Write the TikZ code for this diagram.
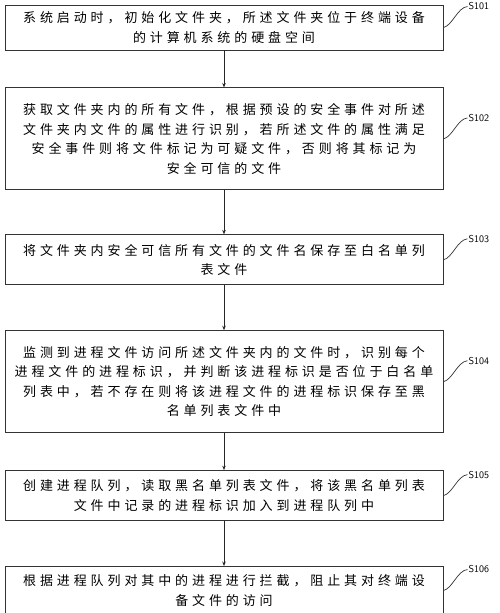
\documentclass[tikz,border=0pt]{standalone}
\usepackage{fontspec}
\newfontfamily\cjk[LetterSpace=30]{Noto Sans CJK SC}
\usetikzlibrary{arrows.meta,positioning}

\begin{document}
\begin{tikzpicture}[
  stepbox/.style={draw=black!80, line width=0.9pt, minimum width=438pt, align=center, inner sep=2pt, font=\cjk\fontsize{13pt}{19.5pt}\selectfont},
  tag/.style={anchor=west, inner sep=1pt, font=\sffamily\fontsize{10pt}{11pt}\selectfont},
  flow/.style={-{Stealth[length=4.5pt,width=3.5pt]}, line width=0.9pt, black!85},
  lead/.style={line width=0.7pt, black!80}]
  \useasboundingbox (0,0) rectangle (500pt,-613pt);
  % steps
  \node[stepbox, minimum height=45pt] (b1) at (224pt,-27.5pt) {系统启动时，初始化文件夹，所述文件夹位于终端设备\\的计算机系统的硬盘空间};
  \node[stepbox, minimum height=102pt, below=37pt of b1] (b2) {获取文件夹内的所有文件，根据预设的安全事件对所述\\文件夹内文件的属性进行识别，若所述文件的属性满足\\安全事件则将文件标记为可疑文件，否则将其标记为\\安全可信的文件};
  \node[stepbox, minimum height=50pt, below=44pt of b2] (b3) {将文件夹内安全可信所有文件的文件名保存至白名单列\\表文件};
  \node[stepbox, minimum height=102pt, below=45pt of b3] (b4) {监测到进程文件访问所述文件夹内的文件时，识别每个\\进程文件的进程标识，并判断该进程标识是否位于白名单\\列表中，若不存在则将该进程文件的进程标识保存至黑\\名单列表文件中};
  \node[stepbox, minimum height=50pt, below=37pt of b4] (b5) {创建进程队列，读取黑名单列表文件，将该黑名单列表\\文件中记录的进程标识加入到进程队列中};
  \node[stepbox, minimum height=48pt, below=45pt of b5] (b6) {根据进程队列对其中的进程进行拦截，阻止其对终端设\\备文件的访问};
  % step tags
  \node[tag] (t1) at ([xshift=24pt,yshift=21pt]b1.east) {S101};
  \node[tag] (t2) at ([xshift=24pt,yshift=21pt]b2.east) {S102};
  \node[tag] (t3) at ([xshift=24pt,yshift=21pt]b3.east) {S103};
  \node[tag] (t4) at ([xshift=24pt,yshift=21pt]b4.east) {S104};
  \node[tag] (t5) at ([xshift=24pt,yshift=21pt]b5.east) {S105};
  \node[tag] (t6) at ([xshift=24pt,yshift=21pt]b6.east) {S106};
  \draw[flow] (b1.south) -- (b2.north);
  \draw[flow] (b2.south) -- (b3.north);
  \draw[flow] (b3.south) -- (b4.north);
  \draw[flow] (b4.south) -- (b5.north);
  \draw[flow] (b5.south) -- (b6.north);
  \foreach \i in {1,...,6}
    \draw[lead] (b\i.east) .. controls +(9pt,2pt) and +(-10pt,-1pt) .. (t\i.west);
\end{tikzpicture}
\end{document}
